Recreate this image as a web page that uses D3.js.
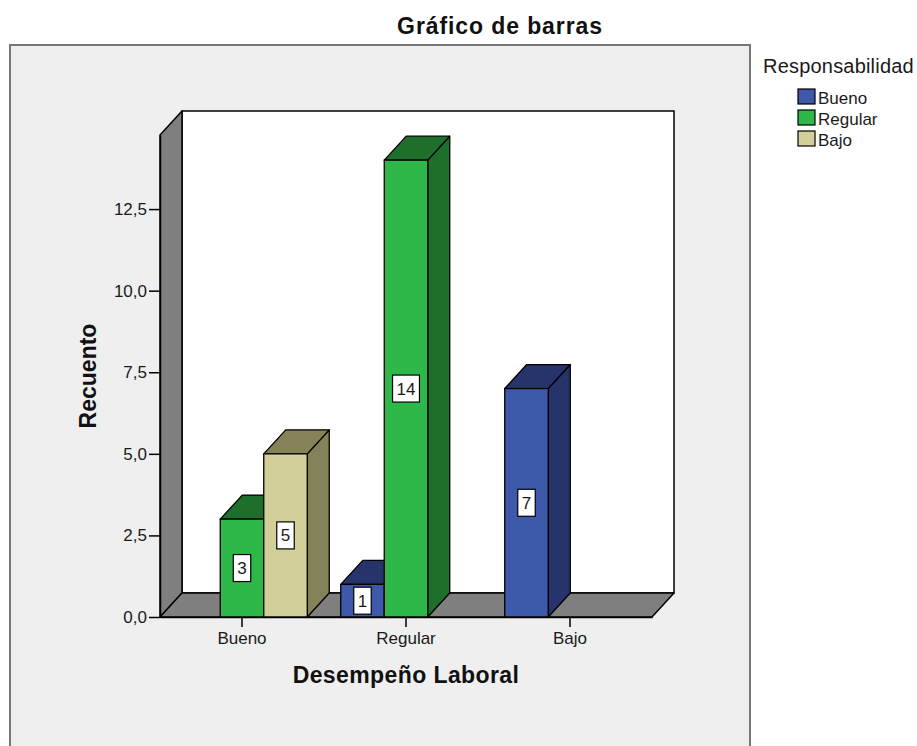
<!DOCTYPE html>
<html>
<head>
<meta charset="utf-8">
<script src="https://cdn.jsdelivr.net/npm/d3@7"></script>
<style>
  html, body { margin: 0; padding: 0; background: #ffffff; }
  svg { display: block; font-family: "Liberation Sans", Arial, sans-serif; }
</style>
</head>
<body>
<svg id="chart" width="917" height="746"></svg>
<script>
// Categories on the x axis (Desempeño Laboral) and legend series (Responsabilidad)
const categories = ["Bueno", "Regular", "Bajo"];
const seriesNames = ["Bueno", "Regular", "Bajo"];

// Counts per series, one value per category
const serieBueno = [0, 1, 7];
const serieRegular = [3, 14, 0];
const serieBajo = [5, 0, 0];

const yTickValues = [0, 2.5, 5, 7.5, 10, 12.5];
const yMax = 14.77;

const frontColors = { Bueno: "#3e58aa", Regular: "#2fb84a", Bajo: "#d3cf99" };
const darkColors = { Bueno: "#26346b", Regular: "#1e6e2c", Bajo: "#858159" };

const seriesValues = { Bueno: serieBueno, Regular: serieRegular, Bajo: serieBajo };

const svg = d3.select("#chart");

// Outer panel
svg.append("rect")
  .attr("x", 10).attr("y", 45).attr("width", 740).attr("height", 720)
  .attr("fill", "#efefef").attr("stroke", "#777").attr("stroke-width", 2);

// Plot geometry (front plane) and oblique depth offset
const plotLeft = 160, plotRight = 652, plotBase = 617, plotTop = 135;
const dx = 22, dy = 24;

const x0 = d3.scaleBand().domain(categories).range([plotLeft, plotRight]).padding(0);
const x1 = d3.scaleBand().domain(seriesNames).range([0, x0.bandwidth()])
  .paddingInner(0).paddingOuter(0.385);
const y = d3.scaleLinear().domain([0, yMax]).range([plotBase, plotTop]);

const pts = a => a.map(p => p.join(",")).join(" ");

// Back wall
svg.append("rect")
  .attr("x", plotLeft + dx).attr("y", plotTop - dy)
  .attr("width", plotRight - plotLeft).attr("height", plotBase - plotTop)
  .attr("fill", "#ffffff").attr("stroke", "#000").attr("stroke-width", 1.5);

// Left side wall
svg.append("polygon")
  .attr("points", pts([[plotLeft, plotBase], [plotLeft, plotTop], [plotLeft + dx, plotTop - dy], [plotLeft + dx, plotBase - dy]]))
  .attr("fill", "#7f7f7f").attr("stroke", "#000").attr("stroke-width", 1.5)
  .attr("stroke-linejoin", "round");

// Floor
svg.append("polygon")
  .attr("points", pts([[plotLeft, plotBase], [plotRight, plotBase], [plotRight + dx, plotBase - dy], [plotLeft + dx, plotBase - dy]]))
  .attr("fill", "#7f7f7f").attr("stroke", "#000").attr("stroke-width", 1.5)
  .attr("stroke-linejoin", "round");

// Bars, drawn left to right so each front face hides its neighbour's side
const bars = [];
categories.forEach((c, i) => {
  seriesNames.forEach(s => {
    const v = seriesValues[s][i];
    if (v > 0) bars.push({ cat: c, ser: s, value: v });
  });
});

const barG = svg.append("g");
bars.forEach(d => {
  const bx = x0(d.cat) + x1(d.ser);
  const bw = x1.bandwidth();
  const ty = y(d.value);
  const g = barG.append("g");
  // side face
  g.append("polygon")
    .attr("points", pts([[bx + bw, plotBase], [bx + bw, ty], [bx + bw + dx, ty - dy], [bx + bw + dx, plotBase - dy]]))
    .attr("fill", darkColors[d.ser]).attr("stroke", "#000").attr("stroke-width", 1.3)
    .attr("stroke-linejoin", "round");
  // top face
  g.append("polygon")
    .attr("points", pts([[bx, ty], [bx + bw, ty], [bx + bw + dx, ty - dy], [bx + dx, ty - dy]]))
    .attr("fill", darkColors[d.ser]).attr("stroke", "#000").attr("stroke-width", 1.3)
    .attr("stroke-linejoin", "round");
  // front face
  g.append("rect")
    .attr("x", bx).attr("y", ty).attr("width", bw).attr("height", plotBase - ty)
    .attr("fill", frontColors[d.ser]).attr("stroke", "#000").attr("stroke-width", 1.3);
});

// Value labels
bars.forEach(d => {
  const cx = x0(d.cat) + x1(d.ser) + x1.bandwidth() / 2;
  const cy = (y(d.value) + plotBase) / 2;
  const g = svg.append("g");
  const box = g.append("rect").attr("fill", "#fff").attr("stroke", "#000").attr("stroke-width", 1.2);
  const t = g.append("text")
    .attr("x", cx).attr("y", cy + 6)
    .attr("text-anchor", "middle")
    .attr("font-size", 17).attr("fill", "#1a1a1a")
    .text(d.value);
  const w = t.node().getComputedTextLength() + 8;
  box.attr("x", cx - w / 2).attr("y", cy - 13.5).attr("width", w).attr("height", 27);
});

// Y axis
const loc = d3.formatLocale({ decimal: ",", thousands: ".", grouping: [3], currency: ["", "€"] });
const yAxis = d3.axisLeft(y).tickValues(yTickValues).tickFormat(loc.format(".1f"))
  .tickSize(11).tickSizeOuter(0).tickPadding(2);
const yg = svg.append("g").attr("transform", `translate(${plotLeft},0)`).call(yAxis);
yg.select(".domain").attr("stroke", "#000").attr("stroke-width", 1.5);
yg.selectAll(".tick line").attr("stroke", "#000").attr("stroke-width", 1.5);
yg.selectAll(".tick text").attr("font-size", 17).attr("fill", "#1a1a1a")
  .attr("font-family", "'Liberation Sans', Arial, sans-serif");

// X axis
const xAxis = d3.axisBottom(x0).tickSize(10).tickSizeOuter(0).tickPadding(5);
const xg = svg.append("g").attr("transform", `translate(0,${plotBase})`).call(xAxis);
xg.select(".domain").attr("stroke", "#000").attr("stroke-width", 1.5);
xg.selectAll(".tick line").attr("stroke", "#000").attr("stroke-width", 1.5);
xg.selectAll(".tick text").attr("font-size", 17).attr("fill", "#1a1a1a")
  .attr("font-family", "'Liberation Sans', Arial, sans-serif");

// Titles
svg.append("text")
  .attr("x", 500).attr("y", 34).attr("text-anchor", "middle")
  .attr("font-size", 23).attr("font-weight", "bold").attr("letter-spacing", 0.9)
  .attr("fill", "#111").text("Gráfico de barras");

svg.append("text")
  .attr("x", (plotLeft + plotRight) / 2).attr("y", 683).attr("text-anchor", "middle")
  .attr("font-size", 23).attr("font-weight", "bold").attr("letter-spacing", 0.4)
  .attr("fill", "#111").text("Desempeño Laboral");

svg.append("text")
  .attr("transform", `translate(96,${(plotBase + plotTop) / 2}) rotate(-90)`)
  .attr("text-anchor", "middle")
  .attr("font-size", 23).attr("font-weight", "bold")
  .attr("fill", "#111").text("Recuento");

// Legend
const lg = svg.append("g");
lg.append("text").attr("x", 763).attr("y", 73)
  .attr("font-size", 20).attr("letter-spacing", 0.2).attr("fill", "#1a1a1a").text("Responsabilidad");
seriesNames.forEach((s, i) => {
  lg.append("rect").attr("x", 798).attr("y", 89 + i * 21).attr("width", 17).attr("height", 15)
    .attr("fill", frontColors[s]).attr("stroke", "#000").attr("stroke-width", 1.2);
  lg.append("text").attr("x", 818).attr("y", 104 + i * 21)
    .attr("font-size", 17).attr("fill", "#1a1a1a").text(s);
});
</script>
</body>
</html>
